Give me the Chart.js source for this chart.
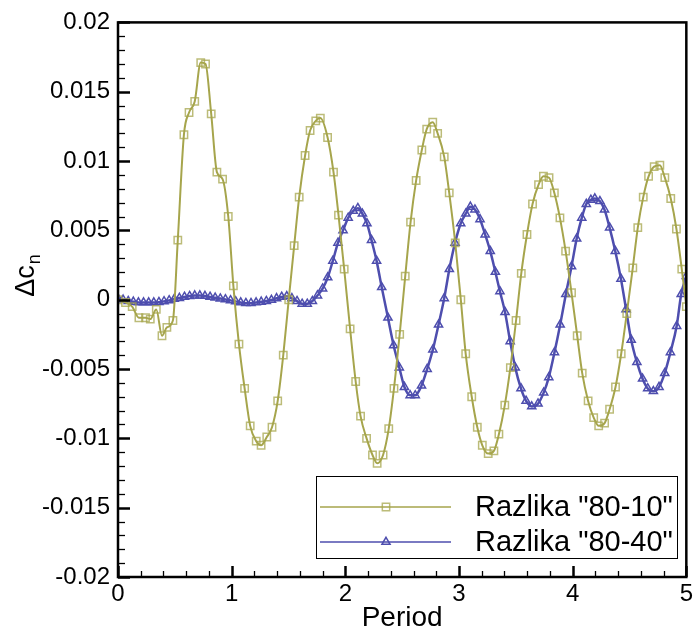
<!DOCTYPE html>
<html><head><meta charset="utf-8">
<script src="https://cdn.jsdelivr.net/npm/chart.js@4.4.0/dist/chart.umd.min.js"></script>
<style>html,body{margin:0;padding:0;background:#fff;}</style>
</head><body>
<canvas id="c" width="696" height="632"></canvas>
<script>
const seriesNames = ['Razlika "80-10"', 'Razlika "80-40"'];
const oliveX = [0.00,0.066,0.125,0.184,0.242,0.284,0.337,0.387,0.43,0.483,0.526,0.58,0.625,0.675,0.728,0.77,0.82,0.87,0.92,0.97,1.015,1.064,1.114,1.163,1.216,1.259,1.309,1.355,1.405,1.454,1.502,1.55,1.594,1.646,1.69,1.74,1.78,1.844,1.896,1.94,1.99,2.042,2.091,2.134,2.187,2.239,2.28,2.332,2.382,2.428,2.478,2.527,2.574,2.623,2.673,2.716,2.769,2.812,2.87,2.914,2.967,3.016,3.059,3.112,3.161,3.205,3.257,3.307,3.351,3.403,3.452,3.502,3.548,3.598,3.647,3.7,3.743,3.792,3.839,3.888,3.938,3.99,4.04,4.084,4.136,4.185,4.229,4.281,4.325,4.377,4.427,4.476,4.529,4.573,4.621,4.668,4.717,4.767,4.811,4.863,4.913,4.96,5.0];
const oliveY = [0.0000,-0.0002,-0.0005,-0.0013,-0.0013,-0.0014,-0.0007,-0.0026,-0.0020,-0.0015,0.0043,0.0119,0.0135,0.0143,0.0171,0.0170,0.0134,0.0092,0.0087,0.0060,0.0010,-0.0032,-0.0064,-0.0091,-0.0102,-0.0105,-0.0099,-0.0092,-0.0073,-0.0040,0.0000,0.0039,0.0074,0.0104,0.0122,0.0129,0.0131,0.0117,0.0092,0.0061,0.0022,-0.0021,-0.0059,-0.0084,-0.0100,-0.0112,-0.0118,-0.0112,-0.0093,-0.0064,-0.0025,0.0017,0.0056,0.0086,0.0108,0.0123,0.0128,0.0120,0.0103,0.0077,0.0041,0.0000,-0.0039,-0.0070,-0.0092,-0.0105,-0.0111,-0.0109,-0.0097,-0.0076,-0.0049,-0.0015,0.0019,0.0047,0.0069,0.0083,0.0089,0.0088,0.0077,0.0059,0.0035,0.0005,-0.0026,-0.0053,-0.0073,-0.0085,-0.0091,-0.0089,-0.0079,-0.0063,-0.0039,-0.0010,0.0023,0.0052,0.0074,0.0089,0.0096,0.0097,0.0088,0.0073,0.0051,0.0022,-0.0005];
const blueX = [0,0.045,0.09,0.135,0.18,0.225,0.27,0.315,0.36,0.405,0.45,0.495,0.54,0.585,0.63,0.675,0.72,0.765,0.81,0.855,0.9,0.945,0.99,1.035,1.08,1.125,1.17,1.215,1.26,1.305,1.35,1.395,1.44,1.485,1.53,1.575,1.62,1.665,1.71,1.755,1.8,1.845,1.89,1.935,1.98,2.025,2.07,2.11,2.15,2.19,2.23,2.275,2.32,2.375,2.425,2.475,2.52,2.57,2.615,2.67,2.72,2.77,2.82,2.87,2.915,2.965,3.015,3.06,3.10,3.14,3.185,3.23,3.275,3.32,3.36,3.405,3.45,3.495,3.545,3.59,3.64,3.695,3.745,3.79,3.84,3.89,3.94,3.99,4.035,4.08,4.12,4.16,4.195,4.24,4.28,4.325,4.375,4.425,4.47,4.515,4.565,4.615,4.66,4.71,4.76,4.81,4.86,4.915,4.955,5.0];
const blueY = [0.0001,0.0000,-0.0001,-0.00015,-0.0002,-0.0002,-0.0002,-0.0002,-0.00018,-0.00012,-0.00005,0.00005,0.00012,0.0002,0.00026,0.0003,0.0003,0.00027,0.0002,0.00014,0.00008,0.00002,-0.00005,-0.00012,-0.0002,-0.00025,-0.00025,-0.0002,-0.00015,-0.0001,-0.00002,0.0001,0.0002,0.00025,0.0001,-0.0001,-0.0003,-0.0003,-0.0001,0.0003,0.0008,0.0016,0.0028,0.0041,0.0050,0.0059,0.0064,0.0066,0.0062,0.0055,0.0043,0.0028,0.0009,-0.0013,-0.0033,-0.0049,-0.0063,-0.0069,-0.0069,-0.0062,-0.0050,-0.0036,-0.0018,0.0001,0.0022,0.0041,0.0055,0.0062,0.0067,0.0065,0.0058,0.0047,0.0035,0.0020,0.0006,-0.0009,-0.0030,-0.0049,-0.0064,-0.0073,-0.0077,-0.0075,-0.0067,-0.0056,-0.0038,-0.0018,0.0004,0.0024,0.0044,0.0059,0.0069,0.0072,0.0073,0.0071,0.0065,0.0052,0.0035,0.0015,-0.0007,-0.0029,-0.0045,-0.0057,-0.0064,-0.0066,-0.0063,-0.0053,-0.0038,-0.0019,0.0004,0.0017];
const xTicks = [0,1,2,3,4,5];
const xTickLabels = ['0','1','2','3','4','5'];
const yTicks = [-0.02,-0.015,-0.01,-0.005,0,0.005,0.01,0.015,0.02];
const yTickLabels = ['-0.02','-0.015','-0.01','-0.005','0','0.005','0.01','0.015','0.02'];
const xTitle = 'Period';
const yTitleMain = '\u0394c';
const yTitleSub = 'n';

const OLIVE = '#a6a54c';
const OLIVE_M = 'rgba(166,165,76,0.75)';
const BLUE = '#4e4eae';
const FONT = '"Liberation Sans", Arial, sans-serif';

const zip = (xs, ys) => xs.map((x, i) => ({x, y: ys[i]}));

const framePlugin = {
  id: 'frame',
  afterDatasetsDraw(chart) {
    const ctx = chart.ctx, a = chart.chartArea;
    const xs = chart.scales.x, ys = chart.scales.y;
    ctx.save();
    ctx.strokeStyle = '#000';
    for (let i = 0; i <= 25; i++) {
      const v = i * 0.2;
      const px = Math.round(xs.getPixelForValue(v)) + 0.5;
      const major = i % 5 === 0;
      ctx.lineWidth = major ? 2.5 : 1.3;
      ctx.beginPath();
      ctx.moveTo(px, a.bottom);
      ctx.lineTo(px, a.bottom - (major ? 11 : 6));
      ctx.stroke();
    }
    for (let i = 0; i <= 40; i++) {
      const v = -0.02 + i * 0.001;
      const py = Math.round(ys.getPixelForValue(v)) + 0.5;
      const major = i % 5 === 0;
      ctx.lineWidth = major ? 2.5 : 1.3;
      ctx.beginPath();
      ctx.moveTo(a.left, py);
      ctx.lineTo(a.left + (major ? 12 : 7), py);
      ctx.stroke();
    }
    ctx.lineWidth = 2.5;
    ctx.strokeRect(a.left, a.top, a.right - a.left, a.bottom - a.top);

    // legend
    const lx = 316.5, ly = 476.5, lw = 361, lh = 82;
    ctx.fillStyle = '#fff';
    ctx.fillRect(lx, ly, lw, lh);
    ctx.lineWidth = 1;
    ctx.strokeStyle = '#000';
    ctx.strokeRect(lx, ly, lw, lh);
    const rows = [507, 542];
    chart.data.datasets.forEach((ds, i) => {
      const y = rows[i];
      ctx.strokeStyle = ds.borderColor;
      ctx.lineWidth = 1.5;
      ctx.beginPath(); ctx.moveTo(320, y); ctx.lineTo(451, y); ctx.stroke();
      ctx.fillStyle = 'rgba(0,0,0,0)';
      ctx.strokeStyle = ds.pointBorderColor;
      ctx.lineWidth = ds.pointBorderWidth;
      Chart.helpers.drawPoint(ctx, {pointStyle: ds.pointStyle, radius: ds.pointRadius, rotation: 0, borderWidth: ds.pointBorderWidth}, 386, y);
      ctx.fillStyle = '#000';
      ctx.font = '29px ' + FONT;
      ctx.textBaseline = 'middle';
      ctx.textAlign = 'left';
      ctx.fillText(ds.label, 475, y + 1);
    });

    // axis titles
    ctx.fillStyle = '#000';
    ctx.font = '28px ' + FONT;
    ctx.textAlign = 'center';
    ctx.textBaseline = 'middle';
    ctx.fillText(xTitle, (a.left + a.right) / 2, 618);

    ctx.save();
    ctx.translate(25, 276);
    ctx.rotate(-Math.PI / 2);
    ctx.font = '27px ' + FONT;
    ctx.textAlign = 'left';
    ctx.textBaseline = 'alphabetic';
    const mainW = ctx.measureText(yTitleMain).width;
    ctx.font = '18px ' + FONT;
    const subW = ctx.measureText(yTitleSub).width;
    const total = mainW + subW;
    ctx.font = '27px ' + FONT;
    ctx.fillText(yTitleMain, -total / 2, 9);
    ctx.font = '18px ' + FONT;
    ctx.fillText(yTitleSub, -total / 2 + mainW + 1, 15);
    ctx.restore();

    ctx.restore();
  }
};

new Chart(document.getElementById('c'), {
  type: 'line',
  data: {
    datasets: [
      {
        label: seriesNames[0],
        data: zip(oliveX, oliveY),
        borderColor: OLIVE,
        borderWidth: 2,
        pointStyle: 'rect',
        pointRadius: 5.2,
        pointBorderWidth: 1.5,
        pointBorderColor: OLIVE_M,
        pointBackgroundColor: 'rgba(0,0,0,0)',
        cubicInterpolationMode: 'monotone',
        fill: false
      },
      {
        label: seriesNames[1],
        data: zip(blueX, blueY),
        borderColor: BLUE,
        borderWidth: 2.5,
        pointStyle: 'triangle',
        pointRadius: 4.7,
        pointBorderWidth: 1.5,
        pointBorderColor: BLUE,
        pointBackgroundColor: 'rgba(0,0,0,0)',
        cubicInterpolationMode: 'monotone',
        fill: false
      }
    ]
  },
  options: {
    responsive: false,
    animation: false,
    devicePixelRatio: 1,
    layout: {padding: {top: 20, right: 6, left: 0, bottom: 0}},
    plugins: {legend: {display: false}, tooltip: {enabled: false}},
    scales: {
      x: {
        type: 'linear', min: 0, max: 5,
        afterBuildTicks: s => { s.ticks = xTicks.map(v => ({value: v})); },
        afterFit: s => { s.height = 55; },
        grid: {display: false, drawTicks: false},
        border: {display: false},
        ticks: {
          callback: (v, i) => xTickLabels[i],
          font: {family: FONT, size: 24},
          color: '#000',
          padding: 3,
          maxRotation: 0
        }
      },
      y: {
        type: 'linear', min: -0.02, max: 0.02,
        afterBuildTicks: s => { s.ticks = yTicks.map(v => ({value: v})); },
        afterFit: s => { s.width = 118; },
        grid: {display: false, drawTicks: false},
        border: {display: false},
        ticks: {
          callback: (v, i) => yTickLabels[i],
          font: {family: FONT, size: 24},
          color: '#000',
          padding: 8
        }
      }
    }
  },
  plugins: [framePlugin]
});
</script>
</body></html>
